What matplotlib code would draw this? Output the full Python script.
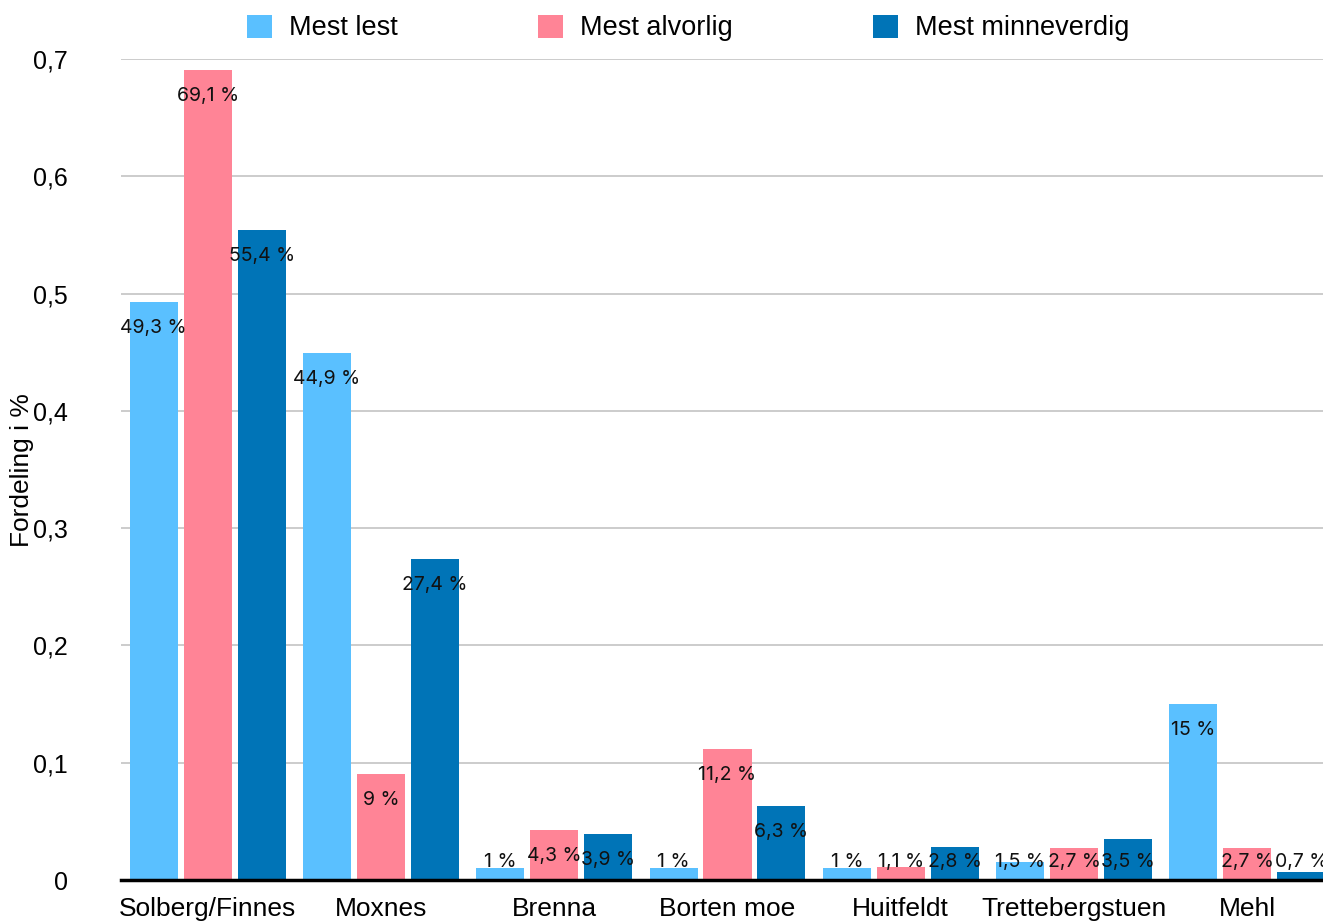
import numpy as np
import matplotlib
matplotlib.use('Agg')
import matplotlib.pyplot as plt
from matplotlib.patches import Patch

# data (andel, leses som prosent på etikettene)
kategorier = ['Solberg/Finnes', 'Moxnes', 'Brenna', 'Borten moe', 'Huitfeldt', 'Trettebergstuen', 'Mehl']
mest_lest = [0.493, 0.449, 0.01, 0.01, 0.01, 0.015, 0.15]
mest_alvorlig = [0.691, 0.09, 0.043, 0.112, 0.011, 0.027, 0.027]
mest_minneverdig = [0.554, 0.274, 0.039, 0.063, 0.028, 0.035, 0.007]

serier = ['Mest lest', 'Mest alvorlig', 'Mest minneverdig']
farger = ['#5AC0FF', '#FF8496', '#0074B7']
yticks = [0, 0.1, 0.2, 0.3, 0.4, 0.5, 0.6, 0.7]

plt.rcParams['font.family'] = ['Liberation Sans', 'DejaVu Sans']

W, H = 1323, 923
fig = plt.figure(figsize=(W/100, H/100), dpi=100)
ax = fig.add_axes([121/W, 1-880/H, (1334-121)/W, (880-59)/H])

x = np.arange(len(kategorier))
bredde = 0.277
avstand = 0.3116

def fmt(v):
    p = round(v*100, 1)
    s = ('%g' % p).replace('.', ',')
    return s + ' %'

for i, (verdier, farge) in enumerate(zip([mest_lest, mest_alvorlig, mest_minneverdig], farger)):
    xs = x + (i-1)*avstand
    ax.bar(xs, verdier, width=bredde, color=farge, zorder=3)
    for xi, v in zip(xs, verdier):
        ax.text(xi, max(v - 0.0222, 0.0153), fmt(v), ha='center', va='center',
                fontsize=14, family=['Inter', 'DejaVu Sans'], color='#111111', zorder=4)

ax.set_xlim(-0.5, len(kategorier)-0.5)
ax.set_ylim(0, 0.7)
ax.set_yticks(yticks)
ax.set_yticklabels([('%g' % t).replace('.', ',') for t in yticks], fontsize=18)
ax.set_xticks(x)
ax.set_xticklabels(kategorier, fontsize=19)
ax.tick_params(axis='y', length=0, pad=38)
ax.tick_params(axis='x', length=0, pad=12)
ax.grid(axis='y', color='#c8c8c8', linewidth=1.3, zorder=0)
for s in ['left', 'right', 'top']:
    ax.spines[s].set_visible(False)
ax.spines['bottom'].set_linewidth(2.5)
ax.spines['bottom'].set_zorder(5)

fig.text(22/W, 1-470/H, 'Fordeling i %', rotation=90, ha='center', va='center', fontsize=19)

handles = [Patch(facecolor=f, edgecolor='none') for f in farger]
fig.legend(handles, serier, loc='center', bbox_to_anchor=(688/W, 1-28/H), ncol=3,
           frameon=False, fontsize=19.5, handlelength=0.93, handleheight=0.93,
           handletextpad=0.6, columnspacing=5.2)

plt.savefig('out.png', dpi=100)
